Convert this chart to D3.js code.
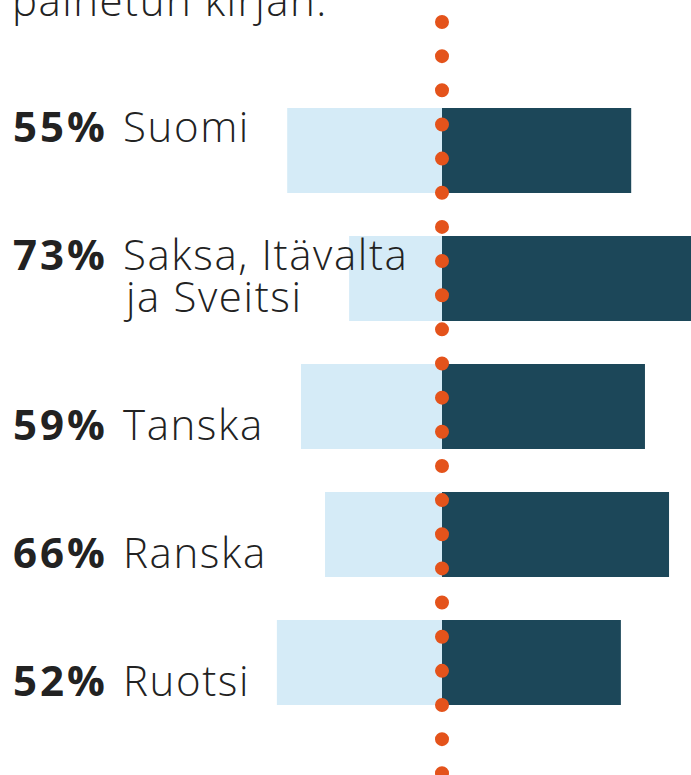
<!DOCTYPE html>
<html>
<head>
<meta charset="utf-8">
<script src="https://cdn.jsdelivr.net/npm/d3@7"></script>
<style>
  html, body { margin: 0; padding: 0; background: #fff; }
  svg { display: block; }
</style>
</head>
<body>
<script>
// data
var countries = ["Suomi", "Saksa, Itävalta ja Sveitsi", "Tanska", "Ranska", "Ruotsi"];
var labelLines = [["Suomi"], ["Saksa, Itävalta", "ja Sveitsi"], ["Tanska"], ["Ranska"], ["Ruotsi"]];
var shares = [55, 73, 59, 66, 52];      // dark bar, right side
var others = [45, 27, 41, 34, 48];      // light bar, left side
var titleTail = "painetun kirjan.";

var W = 691, H = 775;
var font = "'Open Sans', Lato, sans-serif";
var textColor = "#222";

var svg = d3.select("body").append("svg")
  .attr("width", W)
  .attr("height", H);

var rows = countries.map(function(c, i) {
  return {key: c, lines: labelLines[i], share: shares[i], other: others[i], idx: i};
});

var x = d3.scaleLinear()
  .domain([-100, 100])
  .range([98, 786]);

var y = d3.scaleBand()
  .domain(countries)
  .range([108, 705])
  .paddingInner(0.336)
  .paddingOuter(0);

// title, cut by the top of the picture
svg.append("text")
  .attr("x", 12)
  .attr("y", 16)
  .attr("fill", textColor)
  .style("font-family", font)
  .style("font-size", "42px")
  .style("font-weight", 300)
  .style("letter-spacing", "1.5px")
  .text(titleTail);

// left (light) bars
svg.selectAll(".barL")
  .data(rows).enter()
  .append("rect")
  .attr("class", "barL")
  .attr("fill", "#d5ebf7")
  .attr("x", function(d) { return x(-d.other); })
  .attr("y", function(d) { return y(d.key); })
  .attr("width", function(d) { return x(0) - x(-d.other); })
  .attr("height", y.bandwidth());

// right (dark) bars
svg.selectAll(".barR")
  .data(rows).enter()
  .append("rect")
  .attr("class", "barR")
  .attr("fill", "#1c4759")
  .attr("x", x(0))
  .attr("y", function(d) { return y(d.key); })
  .attr("width", function(d) { return x(d.share) - x(0); })
  .attr("height", y.bandwidth());

// dotted center line
svg.append("line")
  .attr("x1", x(0)).attr("x2", x(0))
  .attr("y1", 22).attr("y2", H + 10)
  .attr("stroke", "#e4531b")
  .attr("stroke-width", 14)
  .attr("stroke-linecap", "round")
  .attr("stroke-dasharray", "0 34.15");

// labels: first row sits at the top of its bar, the others at the bottom
var nameX = 123, lineH = 42;
var labels = svg.selectAll(".label")
  .data(rows).enter()
  .append("g")
  .attr("class", "label")
  .attr("transform", function(d) {
    var top = y(d.key), bottom = top + y.bandwidth();
    var base;
    if (d.idx === 0 || d.lines.length > 1) base = top + 34;
    else base = bottom - 9;
    return "translate(0," + base + ")";
  });

labels.append("text")
  .attr("x", 13)
  .attr("fill", textColor)
  .style("font-family", font)
  .style("font-size", "42px")
  .style("font-weight", 700)
  .style("letter-spacing", "3px")
  .text(function(d) { return d.share + "%"; });

labels.each(function(d) {
  var g = d3.select(this);
  d.lines.forEach(function(line, k) {
    g.append("text")
      .attr("x", nameX + (k > 0 ? 3 : 0))
      .attr("y", k * lineH)
      .attr("fill", textColor)
      .style("font-family", font)
      .style("font-size", "42px")
      .style("font-weight", 300)
      .style("letter-spacing", "1.6px")
      .text(line);
  });
});
</script>
</body>
</html>
